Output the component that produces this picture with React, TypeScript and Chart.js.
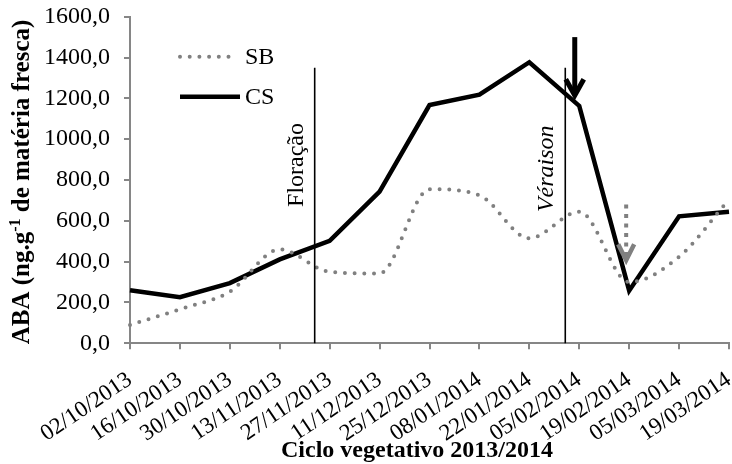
import { useEffect, useRef } from "react";
import { Chart, registerables } from "chart.js";

Chart.register(...registerables);

// Sampling dates (fortnightly) of the 2013/2014 growing cycle
const dates = [
  "02/10/2013", "16/10/2013", "30/10/2013", "13/11/2013", "27/11/2013",
  "11/12/2013", "25/12/2013", "08/01/2014", "22/01/2014", "05/02/2014",
  "19/02/2014", "05/03/2014", "19/03/2014",
];

// ABA content (ng.g-1 fresh matter)
const sbValues = [90, 167, 253, 460, 350, 342, 755, 725, 514, 645, 300, 424, 705];
const csValues = [260, 226, 295, 411, 502, 743, 1167, 1218, 1377, 1163, 258, 622, 645];

// Y axis range
const yMin = 0;
const yMax = 1600;
const yStep = 200;

// Phenological stages (category index where they occur, label anchor value)
const stageNames = ["Floração", "Véraison"];
const stageAt = [3.7, 8.72];
const stageTop = [1350, 1350];
const stageTextAt = [668, 643];

// Arrows: category index, start value, tip value
const arrowAt = [8.91, 9.94];
const arrowFrom = [1500, 680];
const arrowTo = [1200, 392];

const SERIF = "'Liberation Serif', 'Times New Roman', Times, serif";
const GRAY = "#808080";
const AXIS = "#868686";

export default function App() {
  const ref = useRef<HTMLCanvasElement>(null);

  useEffect(() => {
    const canvas = ref.current;
    if (!canvas) return;

    const overlay = {
      id: "overlay",
      afterDatasetsDraw(chart: any) {
        const { ctx, chartArea } = chart;
        const x = chart.scales.x;
        const y = chart.scales.y;
        ctx.save();

        // Stage markers
        stageNames.forEach((name, i) => {
          const px = x.getPixelForValue(stageAt[i]);
          ctx.strokeStyle = "#000";
          ctx.lineWidth = 1.6;
          ctx.setLineDash([]);
          ctx.beginPath();
          ctx.moveTo(px, y.getPixelForValue(stageTop[i]));
          ctx.lineTo(px, y.getPixelForValue(yMin));
          ctx.stroke();

          ctx.save();
          ctx.translate(px - 12, y.getPixelForValue(stageTextAt[i]));
          ctx.rotate(-Math.PI / 2);
          ctx.fillStyle = "#000";
          ctx.font = `${i === 1 ? "italic " : ""}24px ${SERIF}`;
          ctx.textAlign = "left";
          ctx.textBaseline = "alphabetic";
          ctx.fillText(name, 0, 0);
          ctx.restore();
        });

        // Arrows
        arrowAt.forEach((at, i) => {
          const dashed = i === 1;
          const px = x.getPixelForValue(at);
          const y0 = y.getPixelForValue(arrowFrom[i]);
          const y1 = y.getPixelForValue(arrowTo[i]);
          ctx.strokeStyle = dashed ? GRAY : "#000";
          ctx.lineWidth = dashed ? 4 : 5;
          ctx.lineCap = "butt";
          ctx.setLineDash(dashed ? [4, 5.5] : []);
          ctx.beginPath();
          ctx.moveTo(px, y0);
          ctx.lineTo(px, y1 - 6);
          ctx.stroke();
          ctx.setLineDash([]);
          ctx.lineJoin = "miter";
          ctx.lineWidth = dashed ? 4.5 : 5;
          const hw = dashed ? 8 : 9;
          ctx.beginPath();
          ctx.moveTo(px - hw, y1 - 19);
          ctx.lineTo(px, y1 - 3);
          ctx.lineTo(px + hw, y1 - 19);
          ctx.stroke();
        });

        // Legend
        const lx = chartArea.left + 50;
        const sbY = chartArea.top + 40;
        const csY = chartArea.top + 80;
        ctx.lineCap = "round";
        ctx.strokeStyle = GRAY;
        ctx.lineWidth = 4;
        ctx.setLineDash([0, 9.7]);
        ctx.beginPath();
        ctx.moveTo(lx, sbY);
        ctx.lineTo(lx + 49, sbY);
        ctx.stroke();
        ctx.setLineDash([]);
        ctx.strokeStyle = "#000";
        ctx.lineWidth = 4.5;
        ctx.lineCap = "butt";
        ctx.beginPath();
        ctx.moveTo(lx, csY);
        ctx.lineTo(lx + 60, csY);
        ctx.stroke();
        ctx.fillStyle = "#000";
        ctx.font = `24px ${SERIF}`;
        ctx.textAlign = "left";
        ctx.textBaseline = "middle";
        ctx.fillText(chart.data.datasets[0].label, lx + 65, sbY + 1);
        ctx.fillText(chart.data.datasets[1].label, lx + 65, csY + 1);

        // X axis title
        ctx.font = `bold 24px ${SERIF}`;
        ctx.textAlign = "center";
        ctx.textBaseline = "middle";
        ctx.fillText("Ciclo vegetativo 2013/2014", 417, 451);

        // Y axis title with superscript
        ctx.save();
        ctx.translate(29, 182);
        ctx.rotate(-Math.PI / 2);
        const parts: [string, string, number][] = [
          ["ABA (ng.g", `bold 25px ${SERIF}`, 0],
          ["-1", `bold 16px ${SERIF}`, -9],
          [" de matéria fresca)", `bold 25px ${SERIF}`, 0],
        ];
        let total = 0;
        for (const [t, f] of parts) {
          ctx.font = f;
          total += ctx.measureText(t).width;
        }
        let cx = -total / 2;
        ctx.textAlign = "left";
        ctx.textBaseline = "alphabetic";
        for (const [t, f, dy] of parts) {
          ctx.font = f;
          ctx.fillText(t, cx, dy);
          cx += ctx.measureText(t).width;
        }
        ctx.restore();

        ctx.restore();
      },
    };

    const chart = new Chart(canvas, {
      type: "line",
      data: {
        labels: dates,
        datasets: [
          {
            label: "SB",
            data: sbValues,
            borderColor: GRAY,
            borderWidth: 4,
            borderDash: [0, 9.7],
            borderCapStyle: "round",
            cubicInterpolationMode: "monotone",
            pointRadius: 0,
            fill: false,
          },
          {
            label: "CS",
            data: csValues,
            borderColor: "#000",
            borderWidth: 4.5,
            borderJoinStyle: "miter",
            tension: 0,
            pointRadius: 0,
            fill: false,
          },
        ],
      },
      options: {
        animation: false,
        responsive: true,
        maintainAspectRatio: false,
        layout: { padding: { top: 16.7, right: 3, left: 0, bottom: 0 } },
        plugins: { legend: { display: false }, tooltip: { enabled: false } },
        scales: {
          x: {
            type: "category",
            offset: false,
            grid: { drawOnChartArea: false, drawTicks: true, tickLength: 6, color: AXIS, lineWidth: 2 },
            border: { color: AXIS, width: 2 },
            ticks: {
              autoSkip: false,
              minRotation: 34,
              maxRotation: 34,
              padding: 17,
              color: "#000",
              font: { family: SERIF, size: 23 },
            },
            afterFit: (s: any) => {
              s.height = 120.7;
              s.paddingLeft = 0;
              s.paddingRight = 0;
            },
          },
          y: {
            min: yMin,
            max: yMax,
            grid: { drawOnChartArea: false, drawTicks: true, tickLength: 6, color: AXIS, lineWidth: 2 },
            border: { color: AXIS, width: 2 },
            ticks: {
              stepSize: yStep,
              padding: 14,
              color: "#000",
              font: { family: SERIF, size: 24 },
              callback: (v: any) => Number(v).toFixed(1).replace(".", ","),
            },
            afterFit: (s: any) => {
              s.width = 130;
              s.paddingTop = 0;
              s.paddingBottom = 0;
            },
          },
        },
      },
      plugins: [overlay],
    } as any);

    return () => chart.destroy();
  }, []);

  return (
    <div style={{ position: "fixed", left: 0, top: 0, width: 732, height: 464, background: "#fff" }}>
      <canvas ref={ref} />
    </div>
  );
}
